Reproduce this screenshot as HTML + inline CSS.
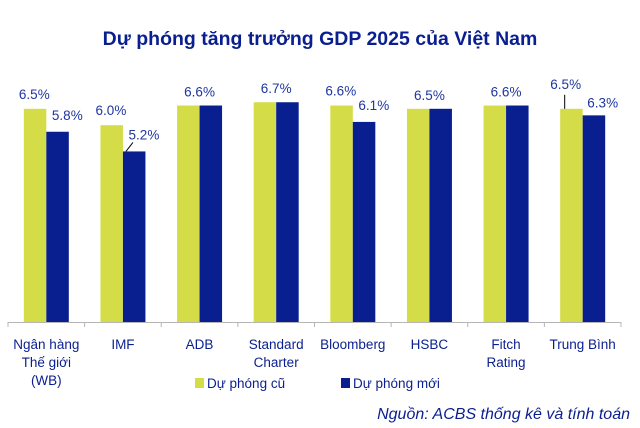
<!DOCTYPE html>
<html><head><meta charset="utf-8"><style>
body{margin:0;background:#fff;}
svg{display:block;font-family:"Liberation Sans","DejaVu Sans",sans-serif;}
</style></head><body>
<svg id="c" width="640" height="428" viewBox="0 0 640 428">
<text x="320" y="45" text-anchor="middle" font-size="19.5" font-weight="bold" fill="#0a1f8f">Dự phóng tăng trưởng GDP 2025 của Việt Nam</text>
<g id="bars"></g>
<g id="axis"></g>
<g>
<rect x="195" y="378" width="9" height="10" fill="#d4dc48"/>
<text x="207" y="388" font-size="13.5" fill="#0a1f8f">Dự phóng cũ</text>
<rect x="341" y="378" width="9" height="10" fill="#0a1f8f"/>
<text x="353" y="388" font-size="13.5" fill="#0a1f8f">Dự phóng  mới</text>
</g>
<text x="630" y="419" text-anchor="end" font-size="16" font-style="italic" fill="#0a1f8f">Nguồn: ACBS thống kê và tính toán</text>
</svg>
<script>
const categories=[["Ngân hàng","Thế giới","(WB)"],["IMF"],["ADB"],["Standard","Charter"],["Bloomberg"],["HSBC"],["Fitch","Rating"],["Trung Bình"]];
const oldValues=[6.5,6.0,6.6,6.7,6.6,6.5,6.6,6.5];
const newValues=[5.8,5.2,6.6,6.7,6.1,6.5,6.6,6.3];
const NS="http://www.w3.org/2000/svg";
const x0=8,x1=621,base=322,perUnit=32.8;
const bw=(x1-x0)/categories.length;
function xc(i){return x0+bw*(i+0.5);}
function y(v){return base-v*perUnit;}
function mk(t,a,p){const e=document.createElementNS(NS,t);for(const k in a)e.setAttribute(k,a[k]);p.appendChild(e);return e;}
const bars=document.getElementById('bars'),axis=document.getElementById('axis');
function lab(x,yy,txt,p,nm){const t=mk('text',{x:x,y:yy,'text-anchor':'middle','font-size':13.5,fill:'#1f35a0'},p);t.textContent=txt;

}
categories.forEach((c,i)=>{
 const cx=xc(i),w=22.5;
 const g=mk('rect',{x:cx-w,y:y(oldValues[i]),width:w,height:oldValues[i]*perUnit,fill:'#d4dc48'},bars);
 
 
 const b=mk('rect',{x:cx,y:y(newValues[i]),width:w,height:newValues[i]*perUnit,fill:'#0a1f8f'},bars);
 
 
 const fo=v=>v.toFixed(1)+'%';
 if(oldValues[i]===newValues[i]){lab(cx,y(oldValues[i])-9,fo(oldValues[i]),bars,'value-label-'+i);}
 else if(i===categories.length-1){
  lab(cx-17,y(oldValues[i])-20,fo(oldValues[i]),bars,'value-label-old-'+i);
  const l=mk('line',{x1:cx-18,y1:y(oldValues[i])-14,x2:cx-18,y2:y(oldValues[i]),stroke:'#000','stroke-width':1},bars);
  
  
  lab(cx+20,y(newValues[i])-8,fo(newValues[i]),bars,'value-label-new-'+i);
 } else {
  lab(cx-12,y(oldValues[i])-10,fo(oldValues[i]),bars,'value-label-old-'+i);
  lab(cx+21,y(newValues[i])-12,fo(newValues[i]),bars,'value-label-new-'+i);
  if(i===1){
   const l=mk('line',{x1:cx+3,y1:y(newValues[i]),x2:cx+10,y2:y(newValues[i])-9,stroke:'#000','stroke-width':1},bars);
   
   
  }
 }
 c.forEach((ln,j)=>{const t=mk('text',{x:cx,y:349+j*18,'text-anchor':'middle','font-size':13.5,fill:'#0a1f8f'},axis);t.textContent=ln;
  
  });
});
const al=mk('line',{x1:x0,y1:base+0.5,x2:x1,y2:base+0.5,stroke:'#b5b5b5','stroke-width':1},axis);


for(let i=0;i<=categories.length;i++){const t=mk('line',{x1:x0+bw*i,y1:base,x2:x0+bw*i,y2:base+5,stroke:'#b5b5b5'},axis);
 
 }
</script>
</body></html>
